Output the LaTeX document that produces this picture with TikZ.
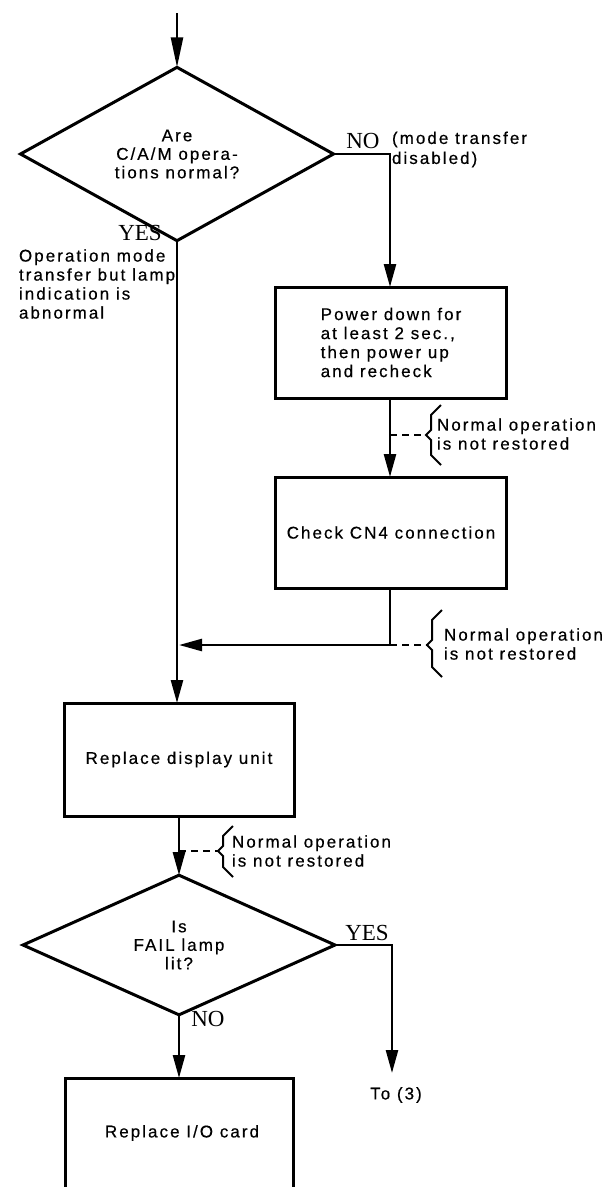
\documentclass[tikz,border=0pt]{standalone}
\usepackage{fontspec}
\setmainfont{Liberation Sans}[LetterSpace=12,FakeBold=0.5]
\newfontfamily\serifl{Liberation Serif}
\usetikzlibrary{shapes.geometric,arrows.meta}
\tikzset{
  every node/.style={inner sep=0pt, outer sep=0pt},
  txt/.style={font=\fontsize{17}{19}\selectfont, align=left},
  boxnode/.style={draw, line width=3pt, rectangle, minimum width=231pt, minimum height=111pt,
    font=\fontsize{17}{19}\selectfont, align=left},
  dia/.style={draw, line width=3pt, diamond, font=\fontsize{17}{18.5}\selectfont, align=center},
  yn/.style={font=\serifl\fontsize{23}{23}\selectfont},
  conn/.style={line width=2.5pt},
  arr/.style={conn, -{Triangle[length=23pt,width=12pt]}},
  arrlong/.style={conn, -{Triangle[length=30pt,width=12pt]}},
  dsh/.style={line width=2pt, dash pattern=on 7pt off 5pt},
  brc/.style={line width=2pt, line join=miter},
}
\begin{document}
\begin{tikzpicture}[x=1pt,y=-1pt]
\useasboundingbox (0,0) rectangle (608,1187);
\clip (0,0) rectangle (608,1187);

% start
\coordinate (start) at (177,13);

% nodes
\node[dia, minimum width=313pt, minimum height=117pt] (d1) at (177,154)
  {Are\\C/A/M opera-\\tions normal?};
\node[boxnode] (b1) at (391,342.5)
  {Power down for\\at least 2 sec.,\\then power up\\and recheck};
\node[boxnode, align=center] (b2) at (391,532.5) {Check CN4 connection};
\node[boxnode, align=center, minimum width=230pt, minimum height=113pt] (b3) at (179,759.5)
  {Replace display unit};
\node[dia, minimum width=312pt, minimum height=112pt] (d2) at (179,945)
  {Is\\FAIL lamp\\lit?};
\node[draw, line width=3pt, rectangle, minimum width=228pt, minimum height=160pt,
  anchor=north] (b4) at (179,1078) {};
\node[txt, align=center] (b4t) at (182,1133) {Replace I/O card};

% labels
\node[yn] (no1) at (363,141) {NO};
\node[txt, anchor=west, font=\fontsize{17}{20}\selectfont] (mt) at (392,149.5) {(mode transfer\\disabled)};
\node[yn] (yes1) at (140,233) {YES};
\node[txt, anchor=west] (opm) at (19,284)
  {Operation mode\\transfer but lamp\\indication is\\abnormal};
\node[yn] (yes2) at (367,933) {YES};
\node[yn] (no2) at (208,1019) {NO};
\node[txt] (to3) at (396,1095) {To (3)};

% connectors
\draw[arrlong] (start) -- (d1.north);
\coordinate (c1) at (390,154);
\draw[arr] (d1.east) -- (c1) -- (b1.north -| c1);
\draw[arr] (d1.south) -- (d1.south |- b3.north);
\draw[arr] (b1.south -| c1) -- (b2.north -| c1);
\coordinate (c2) at (390,645);
\coordinate (j2) at (179,645);
\draw[arr] (b2.south -| c2) -- (c2) -- (j2);
\draw[arr] (b3.south) -- (d2.north);
\coordinate (c3) at (392,945);
\coordinate (c3e) at (392,1073);
\draw[arr] (d2.east) -- (c3) -- (c3e);
\draw[arr] (d2.south) -- (b4.north);

% brace 1
\coordinate (s1) at (390,435);
\coordinate (t1) at (426,435);
\draw[dsh] (s1) -- (t1);
\draw[brc] (441,405) -- (431,415) -- (431,430) -- (t1) -- (431,440) -- (431,455) -- (441,465);
\node[txt, anchor=west] (n1) at (437,434) {Normal operation\\is not restored};

% brace 2
\coordinate (t2) at (427,645);
\draw[dsh] (c2) -- (t2);
\draw[brc] (442,610) -- (432,620) -- (432,640) -- (t2) -- (432,650) -- (432,667) -- (442,677);
\node[txt, anchor=west] (n2) at (444,644) {Normal operation\\is not restored};

% brace 3
\coordinate (s3) at (179,851);
\coordinate (t3) at (218,851);
\draw[dsh] (s3) -- (t3);
\draw[brc] (233,826) -- (223,836) -- (223,846) -- (t3) -- (223,856) -- (223,867) -- (233,877);
\node[txt, anchor=west] (n3) at (232,851) {Normal operation\\is not restored};
\end{tikzpicture}
\end{document}
